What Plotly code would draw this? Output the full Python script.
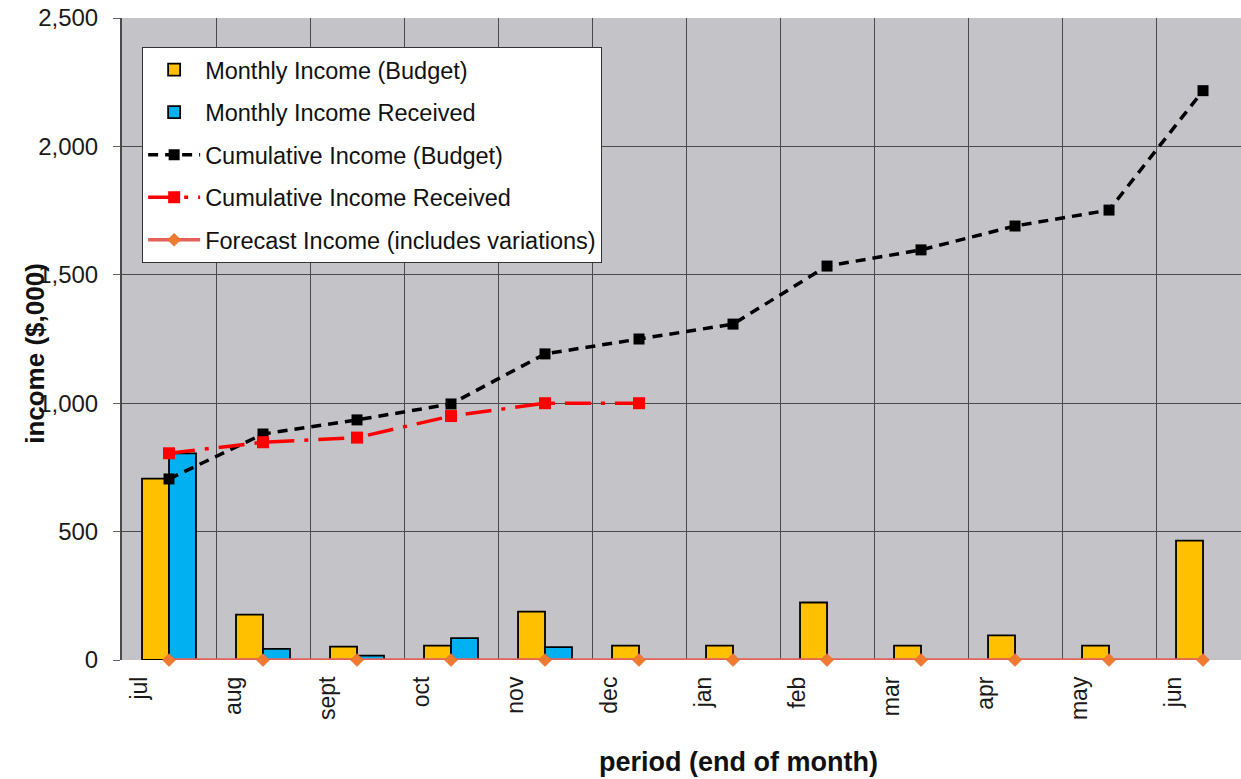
import plotly.graph_objects as go

# Monthly periods (end of month)
months = ["jul", "aug", "sept", "oct", "nov", "dec",
          "jan", "feb", "mar", "apr", "may", "jun"]

# Income figures in $,000
monthly_budget = [706, 177, 52, 56, 188, 56, 56, 224, 56, 96, 56, 465]
monthly_received = [805, 43, 17, 85, 50, 0]
cumulative_budget = [705, 880, 935, 997, 1192, 1250, 1308, 1534, 1597, 1690, 1752, 2217]
cumulative_received = [805, 848, 866, 950, 1000, 1000]
forecast_income = [0] * 12

y_ticks = [0, 500, 1000, 1500, 2000, 2500]

pos = list(range(len(months)))
label_pos = [p - 0.31 for p in pos]
boundaries = [p + 0.5 for p in pos]

FONT = "Liberation Sans, Arial, sans-serif"
NARROW = "Liberation Sans Narrow, Liberation Sans, Arial, sans-serif"

fig = go.Figure()

fig.add_trace(go.Bar(
    x=pos, y=monthly_budget, name="Monthly Income (Budget)",
    marker=dict(color="#FFC000", line=dict(color="#000000", width=1.8)),
    legendgroup="a",
))
fig.add_trace(go.Bar(
    x=pos[:len(monthly_received)], y=monthly_received, name="Monthly Income Received",
    marker=dict(color="#00B0F0", line=dict(color="#000000", width=1.8)),
    legendgroup="b",
))
fig.add_trace(go.Scatter(
    x=pos, y=cumulative_budget, name="Cumulative Income (Budget)",
    mode="lines+markers",
    line=dict(color="#000000", width=3.5, dash="10px,7px"),
    marker=dict(symbol="square", size=11, color="#000000"),
    legendgroup="c",
))
fig.add_trace(go.Scatter(
    x=pos[:len(cumulative_received)], y=cumulative_received,
    name="Cumulative Income Received",
    mode="lines+markers",
    line=dict(color="#FF0000", width=3.5, dash="26px,10px,4px,10px"),
    marker=dict(symbol="square", size=12, color="#FF0000"),
    legendgroup="d",
))
fig.add_trace(go.Scatter(
    x=pos, y=forecast_income, name="Forecast Income (includes variations)",
    mode="lines+markers",
    line=dict(color="#E4615A", width=3.5),
    marker=dict(symbol="diamond", size=10, color="#F07A2E",
                line=dict(color="#E06030", width=0.5)),
    cliponaxis=False,
    legendgroup="e",
))

fig.update_layout(
    width=1241, height=779,
    margin=dict(l=122, r=0, t=18, b=119),
    paper_bgcolor="#FFFFFF",
    plot_bgcolor="#C4C3C7",
    barmode="group",
    bargap=0.426,
    bargroupgap=0,
    font=dict(family=FONT, color="#1A1A1A"),
    showlegend=True,
    legend=dict(
        x=0.018, y=0.955, xanchor="left", yanchor="top",
        bgcolor="#FFFFFF", bordercolor="#333333", borderwidth=1,
        font=dict(family=FONT, size=23.5, color="#111111"),
        traceorder="grouped", tracegroupgap=9,
        itemwidth=52,
    ),
    xaxis=dict(
        range=[-0.5, 11.404],
        tickmode="array", tickvals=label_pos, ticktext=months,
        tickangle=-90, ticks="", showgrid=False, zeroline=False,
        tickfont=dict(family=FONT, size=23, color="#1A1A1A"),
        ticklabelstandoff=11,
        minor=dict(tickmode="array", tickvals=boundaries,
                   showgrid=True, gridcolor="#4A4A4A", gridwidth=1),
        showline=False,
    ),
    yaxis=dict(
        range=[0, 2500],
        tickmode="array", tickvals=y_ticks,
        tickformat=",d",
        showgrid=True, gridcolor="#4A4A4A", gridwidth=1,
        zeroline=False,
        showline=True, linecolor="#4A4A4A", linewidth=2,
        ticks="outside", ticklen=7, tickcolor="#666666",
        tickfont=dict(family=FONT, size=24, color="#1A1A1A"),
        ticklabelstandoff=10,
    ),
    annotations=[
        dict(text="<b>income ($,000)</b>", xref="paper", yref="paper",
             x=-0.078, y=0.478, textangle=-90, showarrow=False,
             font=dict(family=NARROW, size=26, color="#111111"),
             xanchor="center", yanchor="middle"),
        dict(text="<b>period (end of month)</b>", xref="paper", yref="paper",
             x=0.5505, y=-0.159, showarrow=False,
             font=dict(family=NARROW, size=27, color="#111111"),
             xanchor="center", yanchor="middle"),
    ],
)

fig.write_html("out.html")
